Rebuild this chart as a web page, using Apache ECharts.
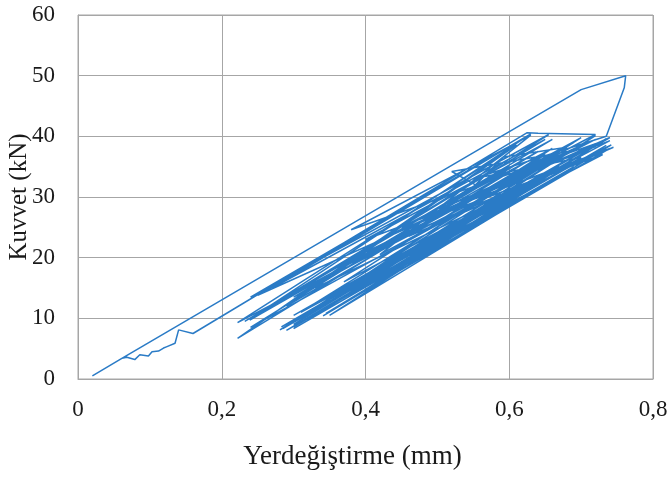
<!DOCTYPE html>
<html>
<head>
<meta charset="utf-8">
<script src="https://cdn.jsdelivr.net/npm/echarts@6/dist/echarts.min.js"></script>
<style>html,body{margin:0;padding:0;background:#fff}#c{width:667px;height:477px}</style>
</head>
<body>
<div id="c"></div>
<script>
var displacement = [
0.020,0.061,0.068,0.079,0.086,0.098,0.103,0.112,0.119,0.123,0.135,0.140,0.160,
0.625,0.640,0.720,0.222,0.600,0.222,0.620,0.239,0.655,0.240,0.630,0.260,0.700,
0.281,0.660,0.283,0.680,0.300,0.720,0.318,0.700,0.290,0.620,0.300,0.690,0.341,
0.735,0.350,0.742,0.330,0.610,0.290,0.650,0.360,0.730,0.310,0.710,0.400,0.725,
0.380,0.630,0.420,0.700,0.450,0.660,0.370,0.740,0.500,0.720,0.520,0.553,0.592,
0.680,0.300,0.640,0.350,0.690,0.420,0.745,0.460,0.700,0.390,0.730,0.480,0.740,
0.340,0.670,0.300,0.720,
0.250,0.610,0.270,0.650,0.232,0.600,0.240,0.640,0.285,0.700,0.320,0.735,0.300,
0.660,0.345,0.740,0.400,0.660,0.440,0.720,0.360,0.690,0.330,0.700,
0.550,0.735,0.760,0.762,0.700,0.061
];
var force = [
0.5,3.4,3.6,3.2,4.0,3.8,4.5,4.6,5.1,5.3,5.9,8.1,7.5,
40.6,40.5,40.3,9.3,37.8,6.7,35.5,9.7,40.3,13.5,40.4,11.5,39.8,
8.1,34.0,8.6,36.0,9.0,40.1,9.7,37.0,8.0,30.2,8.3,35.0,10.4,
39.6,10.5,38.6,15.0,38.6,12.0,37.0,14.0,38.0,11.0,37.5,17.0,39.0,
24.6,40.2,20.5,38.5,25.0,38.0,16.0,39.3,28.0,38.3,34.2,32.0,36.6,
38.2,13.5,37.5,18.0,37.8,22.0,38.2,23.5,36.0,16.0,37.0,26.0,39.8,
12.0,35.0,10.5,38.8,
13.8,39.0,15.0,39.5,9.5,35.0,8.5,34.5,8.3,37.0,10.0,38.5,8.6,
33.5,10.8,38.0,23.0,39.5,24.0,39.5,17.5,39.0,12.5,36.5,
33.0,40.0,48.0,50.0,47.7,3.4
];
var xTicks = ['0','0,2','0,4','0,6','0,8'];
var yTicks = ['0','10','20','30','40','50','60'];

var pts = displacement.map(function(x,i){return [x, force[i]];});
var chart = echarts.init(document.getElementById('c'));
var font = 'Liberation Serif, Times New Roman, serif';
var gridColor = '#a6a6a6';
chart.setOption({
  animation:false,
  backgroundColor:'#fff',
  grid:{left:78,right:14,top:15,bottom:98,show:true,borderColor:gridColor,borderWidth:1,outerBoundsMode:'none',containLabel:false},
  xAxis:{
    type:'value',min:0,max:0.8,interval:0.2,
    name:'Yerdeğiştirme (mm)',nameLocation:'middle',nameGap:64,nameMoveOverlap:false,
    nameTextStyle:{fontFamily:font,fontSize:27,color:'#1a1a1a',padding:[0,26,0,0]},
    axisLine:{show:true,lineStyle:{color:gridColor}},
    axisTick:{show:false},
    splitLine:{show:true,lineStyle:{color:gridColor,width:1}},
    axisLabel:{margin:19,fontFamily:font,fontSize:23,color:'#1a1a1a',
      formatter:function(v){return xTicks[Math.round(v/0.2)];}}
  },
  yAxis:{
    type:'value',min:0,max:60,interval:10,
    name:'Kuvvet (kN)',nameLocation:'middle',nameGap:46,nameRotate:90,nameMoveOverlap:false,
    nameTextStyle:{fontFamily:font,fontSize:25,color:'#1a1a1a'},
    axisLine:{show:true,lineStyle:{color:gridColor}},
    axisTick:{show:false},
    splitLine:{show:true,lineStyle:{color:gridColor,width:1}},
    axisLabel:{margin:23,fontFamily:font,fontSize:23,color:'#1a1a1a',
      formatter:function(v){return yTicks[Math.round(v/10)];}}
  },
  series:[{
    type:'line',data:pts,showSymbol:false,symbol:'none',
    lineStyle:{color:'#2a7bc6',width:1.5},
    clip:false
  }]
});
</script>
</body>
</html>
